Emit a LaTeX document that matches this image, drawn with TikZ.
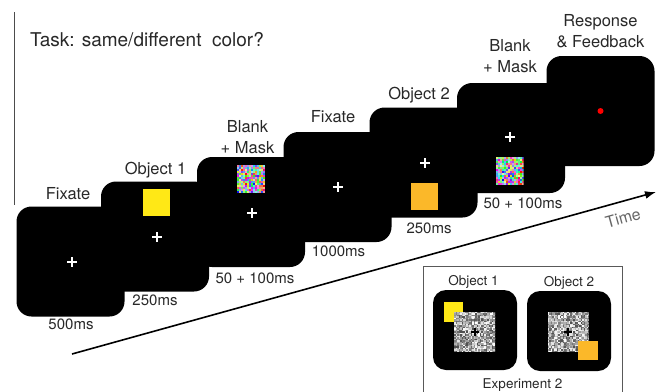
\documentclass[tikz,border=0pt]{standalone}
\usepackage{fontspec}
\setmainfont{TeX Gyre Heros}
\usetikzlibrary{positioning,arrows.meta}
\definecolor{objyellow}{RGB}{255,232,22}
\definecolor{objorange}{RGB}{251,184,41}
\definecolor{txt}{RGB}{40,40,40}

\begin{document}
\begin{tikzpicture}[x=1pt,y=-1pt,
            screen/.style={fill=black,rounded corners=15pt,minimum width=108pt,minimum height=110pt,inner sep=0pt},
            lbl/.style={text=txt,font=\fontsize{16.5}{21}\selectfont,align=center,inner sep=0pt,text depth=0pt},
            dur/.style={text=txt,font=\fontsize{15}{18}\selectfont,inner sep=0pt},
            small/.style={text=txt,font=\fontsize{13.5}{16}\selectfont,inner sep=0pt,text depth=0pt},
            cross/.style={minimum size=10pt,inner sep=0pt,path picture={
                \draw[#1,line width=2pt] (path picture bounding box.west) -- (path picture bounding box.east)
                  (path picture bounding box.north) -- (path picture bounding box.south);}},
            cross/.default=white,
            obj/.style={minimum size=27pt,inner sep=0pt},
            rgbmask/.style={minimum size=28pt,inner sep=0pt,path picture={
                \foreach \i in {0,...,13}{\foreach \j in {0,...,13}{
                  \pgfmathsetmacro\nzh{rnd}\pgfmathsetmacro\nzs{0.35+0.65*rnd}
                  \definecolor{nz}{hsb}{\nzh,\nzs,0.95}
                  \fill[nz] ([shift={(\i*2pt,\j*2pt)}]path picture bounding box.south west) rectangle ++(2.05pt,2.05pt);
                }}}},
            graymask/.style={minimum width=41pt,minimum height=40pt,inner sep=0pt,path picture={
                \foreach \i in {0,...,27}{\foreach \j in {0,...,26}{
                  \pgfmathsetmacro\nzg{0.3+0.7*rnd}
                  \definecolor{nz}{gray}{\nzg}
                  \fill[nz] ([shift={(\i*1.5pt,\j*1.5pt)}]path picture bounding box.south west) rectangle ++(1.55pt,1.55pt);
                }}}},
            timearrow/.style={line width=1.6pt,-{Latex[length=11pt,width=8pt]}}
          ]
\pgfmathsetseed{11}
\useasboundingbox (0,0) rectangle (660,391);

\draw[line width=0.8pt,black!70] (14.5,12) -- (14.5,205);
\node[lbl,font=\fontsize{19}{23}\selectfont,anchor=base west] (task) at (30,46) {Task: same/different~ color?};

\node[screen] (s1) at (70.5,261.5) {};
\node[screen] (s2) at (155,236.5) {};
\node[screen] (s3) at (251,212) {};
\node[screen] (s4) at (337.5,187) {};
\node[screen] (s5) at (423.5,162.5) {};
\node[screen] (s6) at (511,138) {};
\node[screen] (s7) at (600.5,111) {};

\node[lbl,above=7pt of s1.north,xshift=-2.5pt] (l1) {Fixate};
\node[lbl,above=7pt of s2.north,xshift=0.5pt] (l2) {Object 1};
\node[lbl,above=3pt of s3.north,xshift=-3.5pt] (l3) {Blank\\+ Mask};
\node[lbl,above=9pt of s4.north,xshift=-4.5pt] (l4) {Fixate};
\node[lbl,above=8pt of s5.north,xshift=-4.5pt] (l5) {Object 2};
\node[lbl,above=10pt of s6.north,xshift=-1pt] (l6) {Blank\\+ Mask};
\node[lbl,above=8pt of s7.north] (l7) {Response\\\& Feedback};

\node[dur,below=2pt of s1.south,xshift=0.5pt] (d1) {500ms};
\node[dur,below=3pt of s2.south] (d2) {250ms};
\node[dur,below=5pt of s3.south,xshift=4pt] (d3) {50 + 100ms};
\node[dur,below=3pt of s4.south,xshift=1pt] (d4) {1000ms};
\node[dur,below=5pt of s5.south,xshift=5.5pt] (d5) {250ms};
\node[dur,below=4pt of s6.south,xshift=12pt] (d6) {50 + 100ms};

\node[obj,fill=objyellow] (o1) at ([xshift=1.5pt,yshift=34.5pt]s2.center) {};
\node[obj,fill=objorange] (o2) at ([xshift=1pt,yshift=-34pt]s5.center) {};
\node[rgbmask] (m1) at ([yshift=33pt]s3.center) {};
\node[rgbmask] (m2) at ([xshift=-1.5pt,yshift=-33pt]s6.center) {};
\foreach \n/\x/\y in {1/72/262,2/157/237,3/252/213,4/338/187,5/425/163,6/510/137}
  \node[cross] (c\n) at (\x,\y) {};
\node[circle,fill=red,minimum size=6pt,inner sep=0pt] (dot) at (s7) {};

\coordinate (t0) at (72,354);
\coordinate (t1) at (656,192);
\draw[timearrow] (t0) -- (t1);
\node[dur,text=black!60,font=\fontsize{16}{18}\selectfont,rotate=15.5] (time) at (623,218) {Time};

\draw[black!65,line width=0.7pt] (423,395) |- (622,266) -- (622,395);
\node[screen,minimum width=84pt,minimum height=80pt,rounded corners=13pt] (e1) at (475,330) {};
\node[screen,minimum width=84pt,minimum height=80pt,rounded corners=13pt] (e2) at (569,331) {};
\node[small,above=4pt of e1.north,xshift=-1.5pt] (eo1) {Object 1};
\node[small,above=4pt of e2.north] (eo2) {Object 2};
\node[obj,minimum size=19.5pt,fill=objyellow] (y1) at (453.5,312) {};
\node[graymask] (g1) at (474.5,332) {};
\node[cross=black,minimum size=8pt] (k1) at (475,332) {};
\node[graymask] (g2) at (568,332) {};
\node[cross=black,minimum size=8pt] (k2) at (568,332) {};
\node[obj,minimum size=19.5pt,fill=objorange] (y2) at (588,350.5) {};
\node[small] (exp) at (522.5,384) {Experiment 2};
\end{tikzpicture}
\end{document}
